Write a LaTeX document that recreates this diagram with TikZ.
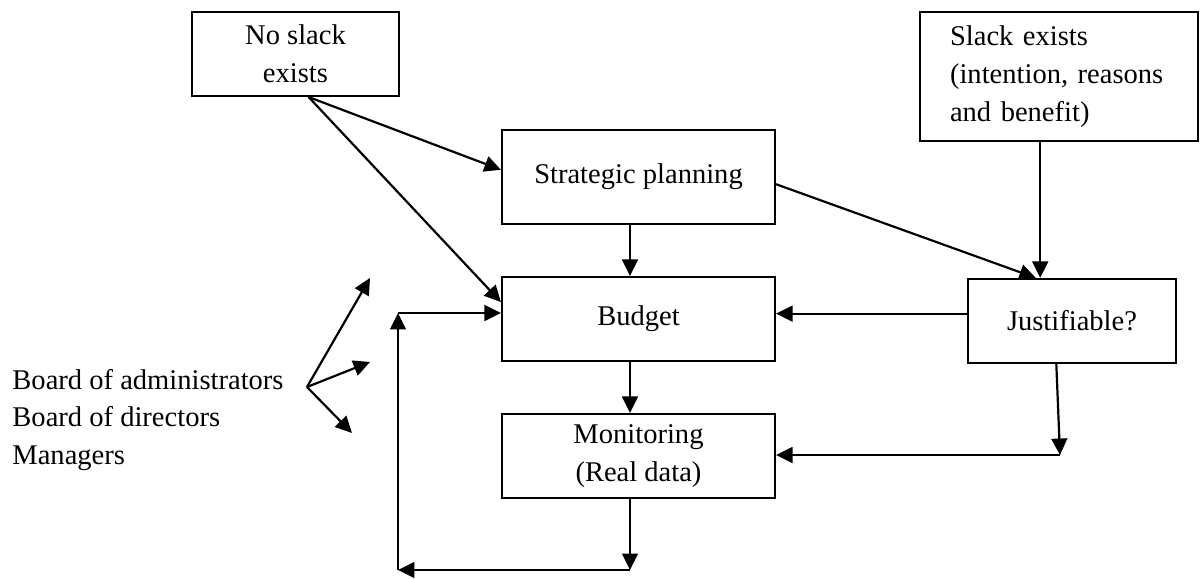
\documentclass[tikz,border=0pt]{standalone}
\usepackage{fontspec}
\setmainfont{Liberation Serif}
\usepackage{tikz}
\usetikzlibrary{arrows.meta}

\begin{document}
\begin{tikzpicture}[x=0.016cm,y=-0.016cm,
  font=\fontsize{13pt}{17.2pt}\selectfont,
  box/.style={draw,line width=1pt,inner sep=0pt,align=center},
  arr/.style={-{Triangle[length=7.5pt,width=7.2pt]},line width=1pt}]
\useasboundingbox (0,0) rectangle (1203,579);
\node[box,minimum width=3.312cm,minimum height=1.344cm](noslack) at (295.5,54) {No slack\\exists};
\node[box,minimum width=4.368cm,minimum height=1.504cm](strat) at (638.5,177) {Strategic planning};
\node[box,minimum width=4.368cm,minimum height=1.344cm](budget) at (638.5,319) {Budget};
\node[box,minimum width=4.368cm,minimum height=1.344cm](monit) at (638.5,456) {Monitoring\\(Real data)};
\node[box,align=left,inner xsep=0.48cm,text width=3.488cm,minimum height=2.064cm](slack) at (1059,76.5) {Slack exists\\(intention, reasons\\and benefit)};
\node[box,minimum width=3.328cm,minimum height=1.344cm](just) at (1072,321) {Justifiable?};
\node[anchor=west,align=left,inner sep=0pt](who) at (12,420) {Board of administrators\\Board of directors\\Managers};
\coordinate (fork) at (307,387);
\coordinate (up) at (370,278);
\coordinate (mid) at (370,362);
\coordinate (down) at (352,433);
\coordinate (jt) at (1060,455);
\coordinate (mb) at (630,570);
\coordinate (lb) at (398,570);
\coordinate (lt) at (398,313);
\draw[arr](noslack.-73)--(strat.177);
\draw[arr](noslack.-73)--(budget.173);
\draw[arr](strat.south -| mb)--(budget.north -| mb);
\draw[arr](strat.-3)--(just.130);
\draw[arr](slack.-106)--(slack.-106 |- just.north);
\draw[arr](just.176)--(just.176 -| budget.east);
\draw[arr](just.-110)--(jt);
\draw[arr](jt)--(jt -| monit.east);
\draw[arr](budget.south -| mb)--(monit.north -| mb);
\draw[arr](monit.south -| mb)--(mb);
\draw[arr](mb)--(lb);
\draw[arr](lb)--(lt);
\draw[arr](lt)--(lt -| budget.west);
\draw[arr](fork)--(up);
\draw[arr](fork)--(mid);
\draw[arr](fork)--(down);
\end{tikzpicture}
\end{document}
